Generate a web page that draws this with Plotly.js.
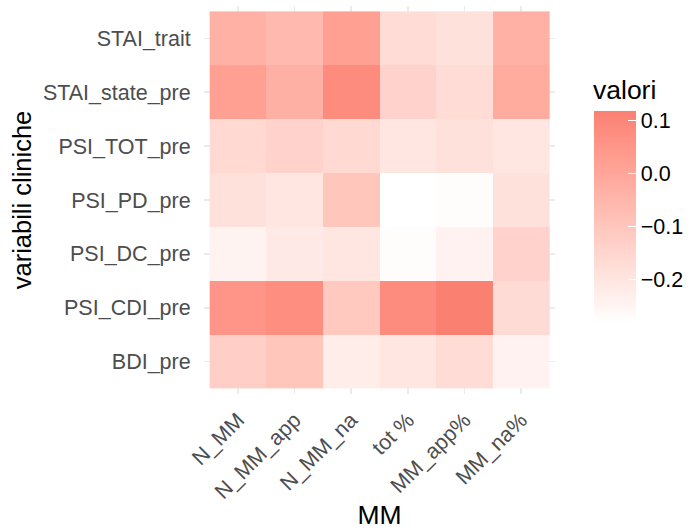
<!DOCTYPE html>
<html>
<head>
<meta charset="utf-8">
<script src="https://cdn.plot.ly/plotly-3.0.1.min.js"></script>
<style>html,body{margin:0;padding:0;background:#fff;}#chart{width:696px;height:530px;}</style>
</head>
<body>
<div id="chart"></div>
<script>
// Columns (x) and rows (y, top to bottom)
const mmCategories = ["N_MM", "N_MM_app", "N_MM_na", "tot %", "MM_app%", "MM_na%"];
const clinicalVars = ["STAI_trait", "STAI_state_pre", "PSI_TOT_pre", "PSI_PD_pre", "PSI_DC_pre", "PSI_CDI_pre", "BDI_pre"];

// Values per row (same order as clinicalVars), columns as mmCategories
const STAI_trait     = [-0.033, -0.057,  0.022, -0.169, -0.184, -0.033];
const STAI_state_pre = [ 0.022, -0.029,  0.082, -0.141, -0.169, -0.017];
const PSI_TOT_pre    = [-0.157, -0.141, -0.157, -0.200, -0.184, -0.200];
const PSI_PD_pre     = [-0.184, -0.200, -0.097, -0.280, -0.272, -0.184];
const PSI_DC_pre     = [-0.244, -0.212, -0.200, -0.272, -0.240, -0.141];
const PSI_CDI_pre    = [ 0.054,  0.074, -0.109,  0.082,  0.118, -0.165];
const BDI_pre        = [-0.125, -0.097, -0.224, -0.200, -0.169, -0.240];

const colorbarTicks = [-0.2, -0.1, 0.0, 0.1];
const colorbarTickText = ["\u22120.2", "\u22120.1", "0.0", "0.1"];

const rows = [STAI_trait, STAI_state_pre, PSI_TOT_pre, PSI_PD_pre, PSI_DC_pre, PSI_CDI_pre, BDI_pre];
// plotly draws first category at bottom: reverse
const yCats = clinicalVars.slice().reverse();
const zRows = rows.slice().reverse();

// Gradient white -> salmon interpolated in CIELab (like ggplot2's scale_fill_gradient)
function srgbToLin(c){c/=255;return c<=0.04045?c/12.92:Math.pow((c+0.055)/1.055,2.4);}
function linToSrgb(c){const v=c<=0.0031308?12.92*c:1.055*Math.pow(c,1/2.4)-0.055;return Math.round(Math.max(0,Math.min(1,v))*255);}
const Xn=0.95047,Yn=1.0,Zn=1.08883;
function f(t){return t>0.008856?Math.cbrt(t):7.787*t+16/116;}
function finv(t){return t>0.206893?t*t*t:(t-16/116)/7.787;}
function rgbToLab(r,g,b){
  const R=srgbToLin(r),G=srgbToLin(g),B=srgbToLin(b);
  const X=0.4124*R+0.3576*G+0.1805*B, Y=0.2126*R+0.7152*G+0.0722*B, Z=0.0193*R+0.1192*G+0.9505*B;
  const fx=f(X/Xn),fy=f(Y/Yn),fz=f(Z/Zn);
  return [116*fy-16, 500*(fx-fy), 200*(fy-fz)];
}
function labToRgb(L,a,b){
  const fy=(L+16)/116, fx=fy+a/500, fz=fy-b/200;
  const X=Xn*finv(fx), Y=Yn*finv(fy), Z=Zn*finv(fz);
  const R=3.2406*X-1.5372*Y-0.4986*Z, G=-0.9689*X+1.8758*Y+0.0415*Z, B=0.0557*X-0.2040*Y+1.0570*Z;
  return [linToSrgb(R),linToSrgb(G),linToSrgb(B)];
}
const lowLab=rgbToLab(255,255,255), highLab=rgbToLab(250,128,114);
const colorscale=[];
for(let i=0;i<=20;i++){
  const t=i/20;
  const lab=lowLab.map((v,k)=>v+(highLab[k]-v)*t);
  const c=labToRgb(lab[0],lab[1],lab[2]);
  colorscale.push([t,`rgb(${c[0]},${c[1]},${c[2]})`]);
}

const font = "Liberation Sans, Arial, Helvetica, sans-serif";

const trace = {
  type: "heatmap",
  x: mmCategories,
  y: yCats,
  z: zRows,
  colorscale: colorscale,
  xgap: 0, ygap: 0,
  hoverinfo: "x+y+z",
  colorbar: {
    xref: "container", yref: "container",
    x: 594/696, xanchor: "left",
    y: 1 - 151/530, yanchor: "top",
    lenmode: "pixels", len: 212,
    thickness: 42,
    xpad: 0, ypad: 0,
    outlinewidth: 0,
    tickmode: "array",
    tickvals: colorbarTicks,
    ticktext: colorbarTickText,
    ticks: "inside",
    ticklen: 8,
    tickcolor: "#FFFFFF",
    tickwidth: 1,
    tickfont: {family: font, size: 21.5, color: "#000000"}
  }
};

const layout = {
  width: 696, height: 530,
  margin: {l: 204, r: 141, t: 6, b: 136},
  paper_bgcolor: "#FFFFFF",
  plot_bgcolor: "#FFFFFF",
  font: {family: font},
  xaxis: {
    type: "category",
    categoryorder: "array", categoryarray: mmCategories,
    range: [-0.6, 5.6],
    showgrid: true, gridcolor: "#EBEBEB", gridwidth: 1.5,
    zeroline: false, showline: false,
    ticks: "outside", ticklen: 4, tickcolor: "rgba(0,0,0,0)",
    tickangle: -45,
    tickfont: {family: font, size: 21.5, color: "#4D4D4D"},
    title: {text: "MM", font: {family: font, size: 26.5, color: "#000000"}, standoff: 4}
  },
  yaxis: {
    type: "category",
    categoryorder: "array", categoryarray: yCats,
    range: [-0.6, 6.6],
    showgrid: true, gridcolor: "#EBEBEB", gridwidth: 1.5,
    zeroline: false, showline: false,
    ticks: "outside", ticklen: 8, tickcolor: "rgba(0,0,0,0)",
    tickfont: {family: font, size: 21.5, color: "#4D4D4D"},
    title: {text: "variabili cliniche", font: {family: font, size: 25.5, color: "#000000"}, standoff: 3}
  },
  annotations: [{
    text: "valori", xref: "paper", yref: "paper",
    x: (594 - 204) / (696 - 204 - 141), y: 1 - (90 - 6) / (530 - 6 - 136),
    xanchor: "left", yanchor: "middle", showarrow: false, xshift: -3,
    font: {family: font, size: 26.5, color: "#000000"}
  }]
};

Plotly.newPlot("chart", [trace], layout, {displayModeBar: false, staticPlot: true});
</script>
</body>
</html>
